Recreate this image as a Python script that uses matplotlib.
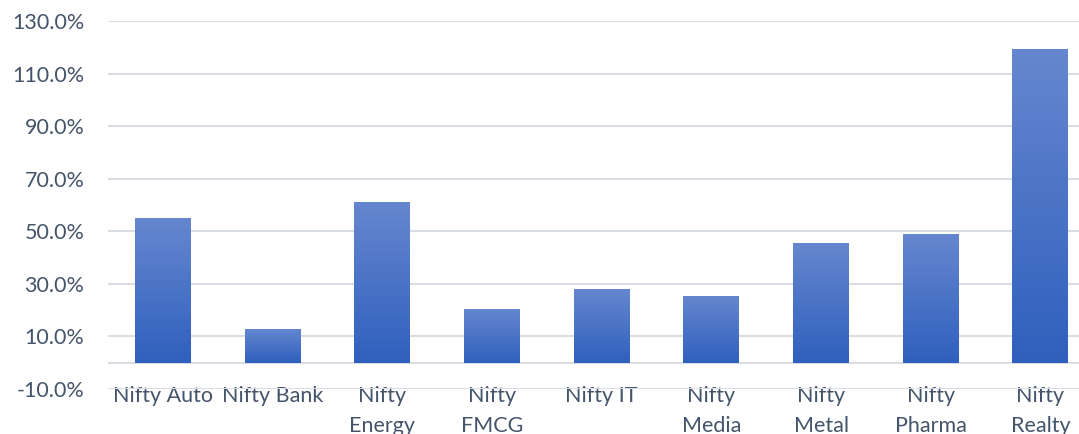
import matplotlib
matplotlib.use("Agg")
import matplotlib.pyplot as plt
import numpy as np
from matplotlib.colors import LinearSegmentedColormap
from matplotlib.ticker import FuncFormatter

categories = ["Nifty Auto", "Nifty Bank", "Nifty\nEnergy", "Nifty\nFMCG", "Nifty IT",
              "Nifty\nMedia", "Nifty\nMetal", "Nifty\nPharma", "Nifty\nRealty"]
values = [54.9, 13.0, 61.3, 20.6, 28.2, 25.5, 45.7, 48.8, 119.2]

plt.rcParams['font.family'] = ['Lato', 'DejaVu Sans']
text_color = "#44546a"
grid_color = "#d9dde4"

fig = plt.figure(figsize=(10.79, 4.34), dpi=100)
ax = fig.add_axes([108/1079, 45/434, 9*109.7/1079, (389-21)/434])

x = np.arange(len(categories))
bars = ax.bar(x, values, width=0.51, color="#4472c4", zorder=3)

cmap = LinearSegmentedColormap.from_list("g", ["#2f60bd", "#6687cf"])
grad = np.linspace(0, 1, 256).reshape(-1, 1)
for b in bars:
    x0, y0 = b.get_x(), b.get_y()
    w, h = b.get_width(), b.get_height()
    im = ax.imshow(grad, cmap=cmap, aspect="auto", origin="lower",
                   extent=[x0, x0 + w, y0, y0 + h], zorder=4)
    im.set_clip_path(b)

ax.set_xlim(-0.5, len(categories) - 0.5)
ax.set_ylim(-10, 130)
ax.set_yticks(np.arange(-10, 131, 20))
ax.yaxis.set_major_formatter(FuncFormatter(lambda v, p: f"{v:.1f}%"))
ax.grid(axis="y", color=grid_color, linewidth=1.5, zorder=0)
ax.axhline(0, color=grid_color, linewidth=1.5, zorder=2)
for s in ax.spines.values():
    s.set_visible(False)

ax.set_xticks(x)
ax.set_xticklabels(categories, linespacing=1.6)
ax.tick_params(axis="both", length=0, labelsize=15.5, labelcolor=text_color)
ax.tick_params(axis="x", pad=-2)
ax.tick_params(axis="y", pad=17)

fig.savefig("out.png", dpi=100)
